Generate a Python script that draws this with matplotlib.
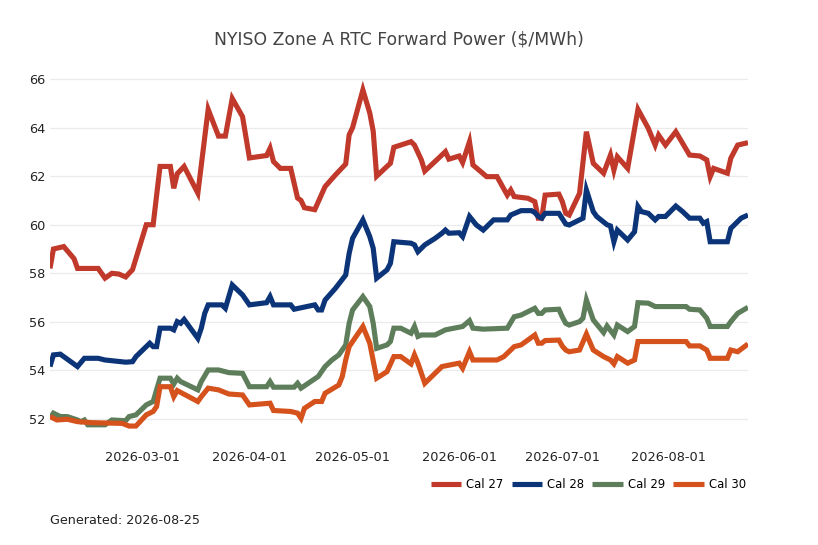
import matplotlib
matplotlib.use("Agg")
import matplotlib.pyplot as plt
import matplotlib.dates as mdates
import pandas as pd

series_names = ["Cal 27", "Cal 28", "Cal 29", "Cal 30"]
series_colors = ["#c0392b", "#0c3478", "#5e7d5a", "#d5521c"]

cal27_dates = ["2026-02-02", "2026-02-03", "2026-02-06", "2026-02-09", "2026-02-10", "2026-02-16",
               "2026-02-18", "2026-02-20", "2026-02-22", "2026-02-24", "2026-02-26", "2026-03-02",
               "2026-03-04", "2026-03-06", "2026-03-09", "2026-03-10", "2026-03-11", "2026-03-13",
               "2026-03-17", "2026-03-20", "2026-03-23", "2026-03-25", "2026-03-27", "2026-03-30",
               "2026-04-01", "2026-04-06", "2026-04-07", "2026-04-08", "2026-04-10", "2026-04-13",
               "2026-04-15", "2026-04-16", "2026-04-17", "2026-04-20", "2026-04-23", "2026-04-26",
               "2026-04-29", "2026-04-30", "2026-05-01", "2026-05-04", "2026-05-06", "2026-05-07",
               "2026-05-08", "2026-05-11", "2026-05-12", "2026-05-13", "2026-05-15", "2026-05-18",
               "2026-05-19", "2026-05-21", "2026-05-22", "2026-05-26", "2026-05-28", "2026-05-29",
               "2026-06-01", "2026-06-02", "2026-06-04", "2026-06-05", "2026-06-09", "2026-06-12",
               "2026-06-15", "2026-06-16", "2026-06-17", "2026-06-21", "2026-06-23", "2026-06-24",
               "2026-06-25", "2026-06-26", "2026-06-30", "2026-07-01", "2026-07-02", "2026-07-03",
               "2026-07-06", "2026-07-08", "2026-07-10", "2026-07-13", "2026-07-15", "2026-07-16",
               "2026-07-17", "2026-07-20", "2026-07-23", "2026-07-26", "2026-07-28", "2026-07-29",
               "2026-07-31", "2026-08-03", "2026-08-05", "2026-08-07", "2026-08-10", "2026-08-12",
               "2026-08-13", "2026-08-14", "2026-08-18", "2026-08-19", "2026-08-21", "2026-08-24"]
cal27_values = [58.2, 59.0, 59.1, 58.6, 58.2, 58.2,
                57.8, 58.0, 57.97, 57.85, 58.15, 60.0,
                60.0, 62.4, 62.4, 61.5, 62.1, 62.4,
                61.3, 64.75, 63.65, 63.65, 65.2, 64.45,
                62.75, 62.85, 63.15, 62.6, 62.32, 62.32,
                61.1, 61.0, 60.7, 60.62, 61.57, 62.05,
                62.5, 63.7, 64.0, 65.55, 64.6, 63.85,
                62.0, 62.4, 62.53, 63.19, 63.28, 63.42,
                63.28, 62.67, 62.21, 62.74, 63.01, 62.7,
                62.83, 62.56, 63.42, 62.46, 61.98, 61.98,
                61.22, 61.43, 61.16, 61.09, 60.95, 60.27,
                60.27, 61.22, 61.26, 60.95, 60.47, 60.4,
                61.29, 63.83, 62.53, 62.12, 62.87, 62.25,
                62.8, 62.32, 64.75, 63.97, 63.28, 63.69,
                63.28, 63.83, 63.35, 62.87, 62.83, 62.67,
                61.98, 62.32, 62.12, 62.74, 63.28, 63.38]

cal28_dates = ["2026-02-02", "2026-02-03", "2026-02-05", "2026-02-10", "2026-02-12", "2026-02-16",
               "2026-02-18", "2026-02-24", "2026-02-26", "2026-02-27", "2026-03-03", "2026-03-04",
               "2026-03-05", "2026-03-06", "2026-03-09", "2026-03-10", "2026-03-11", "2026-03-12",
               "2026-03-13", "2026-03-17", "2026-03-18", "2026-03-19", "2026-03-20", "2026-03-24",
               "2026-03-25", "2026-03-27", "2026-03-30", "2026-04-01", "2026-04-06", "2026-04-07",
               "2026-04-08", "2026-04-13", "2026-04-14", "2026-04-20", "2026-04-21", "2026-04-22",
               "2026-04-23", "2026-04-26", "2026-04-29", "2026-04-30", "2026-05-01", "2026-05-04",
               "2026-05-06", "2026-05-07", "2026-05-08", "2026-05-11", "2026-05-12", "2026-05-13",
               "2026-05-18", "2026-05-19", "2026-05-20", "2026-05-22", "2026-05-25", "2026-05-27",
               "2026-05-28", "2026-05-29", "2026-06-01", "2026-06-02", "2026-06-04", "2026-06-06",
               "2026-06-08", "2026-06-11", "2026-06-15", "2026-06-16", "2026-06-19", "2026-06-22",
               "2026-06-23", "2026-06-24", "2026-06-25", "2026-06-26", "2026-06-30", "2026-07-02",
               "2026-07-03", "2026-07-07", "2026-07-08", "2026-07-10", "2026-07-11", "2026-07-14",
               "2026-07-15", "2026-07-16", "2026-07-17", "2026-07-20", "2026-07-22", "2026-07-23",
               "2026-07-24", "2026-07-26", "2026-07-28", "2026-07-29", "2026-07-31", "2026-08-03",
               "2026-08-05", "2026-08-07", "2026-08-10", "2026-08-11", "2026-08-12", "2026-08-13",
               "2026-08-18", "2026-08-19", "2026-08-20", "2026-08-22", "2026-08-24"]
cal28_values = [54.16, 54.64, 54.67, 54.16, 54.5, 54.5,
                54.43, 54.34, 54.36, 54.57, 55.12, 54.98,
                54.98, 55.74, 55.74, 55.67, 56.01, 55.94,
                56.1, 55.32, 55.74, 56.35, 56.7, 56.7,
                56.56, 57.52, 57.11, 56.7, 56.79, 57.04,
                56.7, 56.7, 56.52, 56.7, 56.49, 56.49,
                56.9, 57.38, 57.93, 58.82, 59.44, 60.2,
                59.51, 59.03, 57.8, 58.14, 58.41, 59.3,
                59.24, 59.17, 58.89, 59.17, 59.44, 59.65,
                59.78, 59.65, 59.67, 59.51, 60.34, 59.99,
                59.78, 60.2, 60.2, 60.4, 60.58, 60.58,
                60.5, 60.34, 60.27, 60.47, 60.47, 60.03,
                59.99, 60.27, 61.43, 60.54, 60.34, 60.0,
                59.95, 59.3, 59.78, 59.37, 59.71, 60.75,
                60.54, 60.47, 60.2, 60.34, 60.34, 60.77,
                60.54, 60.27, 60.27, 60.06, 60.13, 59.3,
                59.3, 59.85, 59.99, 60.27, 60.4]

cal29_dates = ["2026-02-02", "2026-02-03", "2026-02-05", "2026-02-07", "2026-02-10", "2026-02-11",
               "2026-02-12", "2026-02-13", "2026-02-18", "2026-02-20", "2026-02-24", "2026-02-25",
               "2026-02-27", "2026-03-02", "2026-03-04", "2026-03-06", "2026-03-09", "2026-03-10",
               "2026-03-11", "2026-03-12", "2026-03-17", "2026-03-18", "2026-03-20", "2026-03-23",
               "2026-03-26", "2026-03-30", "2026-04-01", "2026-04-06", "2026-04-07", "2026-04-08",
               "2026-04-14", "2026-04-15", "2026-04-16", "2026-04-21", "2026-04-23", "2026-04-25",
               "2026-04-27", "2026-04-29", "2026-04-30", "2026-05-01", "2026-05-04", "2026-05-06",
               "2026-05-07", "2026-05-08", "2026-05-11", "2026-05-12", "2026-05-13", "2026-05-15",
               "2026-05-18", "2026-05-19", "2026-05-20", "2026-05-21", "2026-05-25", "2026-05-28",
               "2026-06-02", "2026-06-04", "2026-06-05", "2026-06-08", "2026-06-15", "2026-06-17",
               "2026-06-19", "2026-06-23", "2026-06-24", "2026-06-25", "2026-06-26", "2026-06-30",
               "2026-07-01", "2026-07-02", "2026-07-03", "2026-07-06", "2026-07-07", "2026-07-08",
               "2026-07-10", "2026-07-13", "2026-07-14", "2026-07-16", "2026-07-17", "2026-07-20",
               "2026-07-22", "2026-07-23", "2026-07-26", "2026-07-28", "2026-08-06", "2026-08-07",
               "2026-08-10", "2026-08-12", "2026-08-13", "2026-08-18", "2026-08-19", "2026-08-21",
               "2026-08-24"]
cal29_values = [52.03, 52.24, 52.1, 52.1, 51.96, 51.89,
                51.96, 51.76, 51.76, 51.96, 51.93, 52.1,
                52.17, 52.58, 52.72, 53.68, 53.68, 53.44,
                53.68, 53.54, 53.2, 53.54, 54.02, 54.02,
                53.91, 53.88, 53.33, 53.33, 53.54, 53.31,
                53.31, 53.47, 53.27, 53.75, 54.16, 54.43,
                54.64, 55.05, 55.94, 56.49, 57.04, 56.63,
                55.94, 54.91, 55.05, 55.19, 55.74, 55.74,
                55.53, 55.81, 55.4, 55.46, 55.46, 55.67,
                55.81, 56.05, 55.74, 55.7, 55.74, 56.21,
                56.28, 56.56, 56.35, 56.35, 56.49, 56.52,
                56.2, 55.94, 55.87, 56.01, 56.15, 56.9,
                56.08, 55.56, 55.83, 55.46, 55.87, 55.6,
                55.81, 56.79, 56.77, 56.63, 56.63, 56.52,
                56.49, 56.15, 55.81, 55.81, 56.01, 56.35,
                56.6]

cal30_dates = ["2026-02-02", "2026-02-04", "2026-02-07", "2026-02-10", "2026-02-14", "2026-02-23",
               "2026-02-25", "2026-02-27", "2026-03-02", "2026-03-04", "2026-03-05", "2026-03-06",
               "2026-03-09", "2026-03-10", "2026-03-11", "2026-03-17", "2026-03-18", "2026-03-20",
               "2026-03-23", "2026-03-26", "2026-03-30", "2026-04-01", "2026-04-07", "2026-04-08",
               "2026-04-13", "2026-04-15", "2026-04-16", "2026-04-17", "2026-04-20", "2026-04-22",
               "2026-04-23", "2026-04-27", "2026-04-28", "2026-04-29", "2026-04-30", "2026-05-04",
               "2026-05-06", "2026-05-08", "2026-05-11", "2026-05-13", "2026-05-15", "2026-05-18",
               "2026-05-19", "2026-05-20", "2026-05-22", "2026-05-27", "2026-06-01", "2026-06-02",
               "2026-06-04", "2026-06-05", "2026-06-12", "2026-06-14", "2026-06-17", "2026-06-19",
               "2026-06-23", "2026-06-24", "2026-06-25", "2026-06-26", "2026-06-30", "2026-07-01",
               "2026-07-02", "2026-07-03", "2026-07-06", "2026-07-08", "2026-07-10", "2026-07-13",
               "2026-07-15", "2026-07-16", "2026-07-17", "2026-07-20", "2026-07-22", "2026-07-23",
               "2026-08-06", "2026-08-07", "2026-08-10", "2026-08-12", "2026-08-13", "2026-08-18",
               "2026-08-19", "2026-08-21", "2026-08-24"]
cal30_values = [52.1, 51.96, 51.99, 51.89, 51.85, 51.82,
                51.71, 51.71, 52.17, 52.31, 52.51, 53.33,
                53.33, 52.92, 53.17, 52.72, 52.92, 53.27,
                53.2, 53.03, 52.99, 52.58, 52.65, 52.35,
                52.31, 52.24, 52.03, 52.44, 52.72, 52.72,
                53.06, 53.4, 53.75, 54.43, 54.98, 55.81,
                55.12, 53.68, 53.95, 54.57, 54.57, 54.27,
                54.64, 54.3, 53.47, 54.16, 54.3, 54.09,
                54.77, 54.43, 54.43, 54.57, 54.98, 55.05,
                55.46, 55.12, 55.12, 55.23, 55.25, 55.0,
                54.84, 54.77, 54.84, 55.5, 54.84, 54.57,
                54.43, 54.27, 54.57, 54.3, 54.43, 55.19,
                55.19, 55.01, 55.01, 54.84, 54.5, 54.5,
                54.84, 54.77, 55.09]

title_text = r"NYISO Zone A RTC Forward Power (\$/MWh)"
footer_text = "Generated: 2026-08-25"
y_ticks = [52, 54, 56, 58, 60, 62, 64, 66]

all_dates = [cal27_dates, cal28_dates, cal29_dates, cal30_dates]
all_values = [cal27_values, cal28_values, cal29_values, cal30_values]

fig = plt.figure(figsize=(8.18, 5.45), dpi=100)
ax = fig.add_axes([50 / 818, 1 - 442.8 / 545, 698 / 818, 369.6 / 545])

for name, color, d, v in zip(series_names, series_colors, all_dates, all_values):
    ax.plot(pd.to_datetime(d), v, color=color, lw=3.7, label=name,
            solid_joinstyle="miter", solid_capstyle="butt")

ax.set_xlim(pd.Timestamp("2026-02-02"), pd.Timestamp("2026-08-24"))
ax.set_ylim(51.02, 66.24)
ax.set_yticks(y_ticks)
ax.xaxis.set_major_locator(mdates.MonthLocator())
ax.xaxis.set_major_formatter(mdates.DateFormatter("%Y-%m-%d"))
ax.tick_params(axis="both", length=0, labelsize=9.3, colors="#222222")
ax.tick_params(axis="x", pad=6)
ax.grid(axis="y", color="#ebebeb", lw=0.9)
ax.grid(axis="x", visible=False)
ax.set_axisbelow(True)
for s in ax.spines.values():
    s.set_visible(False)

fig.text((50 + 748) / 2 / 818, 1 - 39 / 545, title_text, ha="center", va="center",
         fontsize=12.4, color="#444444")
fig.legend(loc="center right", bbox_to_anchor=(746 / 818, 1 - 485 / 545), ncol=4,
           frameon=False, borderaxespad=0, borderpad=0, fontsize=8.4,
           handlelength=2.6, handletextpad=0.45, columnspacing=0.7)
fig.text(50 / 818, 1 - 520 / 545, footer_text, ha="left", va="center", fontsize=9.2,
         color="#222222")

fig.savefig("out.png", dpi=100)
